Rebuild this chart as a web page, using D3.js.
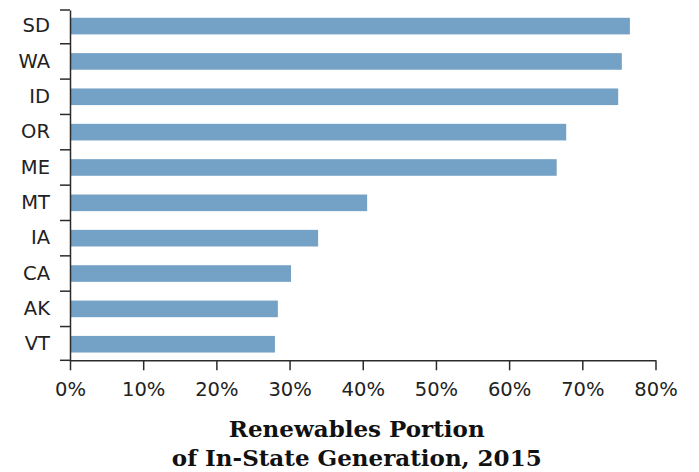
<!DOCTYPE html>
<html>
<head>
<meta charset="utf-8">
<script src="https://cdn.jsdelivr.net/npm/d3@7"></script>
<style>
  body { margin: 0; background: #fff; }
  svg { display: block; }
</style>
</head>
<body>
<svg id="chart" width="699" height="472"></svg>
<script>
// states, top to bottom
var states = ["SD", "WA", "ID", "OR", "ME", "MT", "IA", "CA", "AK", "VT"];
// renewables share of in-state generation, 2015 (fraction)
var shares = [0.765, 0.754, 0.749, 0.678, 0.665, 0.406, 0.339, 0.302, 0.284, 0.280];
var xTicks = [0, 0.1, 0.2, 0.3, 0.4, 0.5, 0.6, 0.7, 0.8];
var titleLines = ["Renewables Portion", "of In-State Generation, 2015"];

var data = states.map(function(s, i) { return {state: s, value: shares[i]}; });

var W = 699, H = 472;
var margin = {top: 10, right: 43.5, bottom: 111.7, left: 70};
var width = W - margin.left - margin.right;
var height = H - margin.top - margin.bottom;

var svg = d3.select("#chart");
var g = svg.append("g").attr("transform", "translate(" + margin.left + "," + margin.top + ")");

var x = d3.scaleLinear().domain([0, 0.8]).range([0, width]);
var y = d3.scaleBand().domain(states).range([0, height])
          .paddingInner(0.53).paddingOuter(0.22);

var axisColor = "#2b2b2b";
var tickFont = "19.5px 'DejaVu Sans', sans-serif";

g.append("g")
  .selectAll("rect")
  .data(data)
  .enter().append("rect")
  .attr("x", 0)
  .attr("y", function(d) { return y(d.state); })
  .attr("width", function(d) { return x(d.value); })
  .attr("height", y.bandwidth())
  .attr("fill", "#74a1c6");

// bottom axis
var xAxis = g.append("g")
  .attr("transform", "translate(0," + height + ")")
  .call(d3.axisBottom(x).tickValues(xTicks).tickFormat(d3.format(".0%"))
        .tickSize(10).tickSizeOuter(0).tickPadding(12));
xAxis.selectAll("text").style("font", tickFont).attr("fill", "#222");

// left axis: labels only, ticks drawn between categories
var yAxis = g.append("g")
  .call(d3.axisLeft(y).tickSize(0).tickPadding(20));
yAxis.selectAll("text").style("font", tickFont).attr("fill", "#222");

// boundary ticks: range ends + midpoints between bands
var bounds = [0];
for (var i = 0; i < states.length - 1; i++) {
  bounds.push((y(states[i]) + y.bandwidth() + y(states[i + 1])) / 2);
}
bounds.push(height);

g.append("g")
  .selectAll("line")
  .data(bounds)
  .enter().append("line")
  .attr("x1", -10).attr("x2", 0)
  .attr("y1", function(d) { return d; })
  .attr("y2", function(d) { return d; });

g.selectAll(".domain, .tick line, g > line")
  .attr("stroke", axisColor)
  .attr("stroke-width", 1.5);

// title
svg.append("g")
  .attr("font-family", "'DejaVu Serif', serif")
  .attr("font-weight", "bold")
  .attr("font-size", 23)
  .attr("text-anchor", "middle")
  .attr("fill", "#111")
  .selectAll("text")
  .data(titleLines)
  .enter().append("text")
  .attr("x", margin.left + width / 2 - 6)
  .attr("y", function(d, i) { return 437 + i * 29; })
  .text(function(d) { return d; });
</script>
</body>
</html>
